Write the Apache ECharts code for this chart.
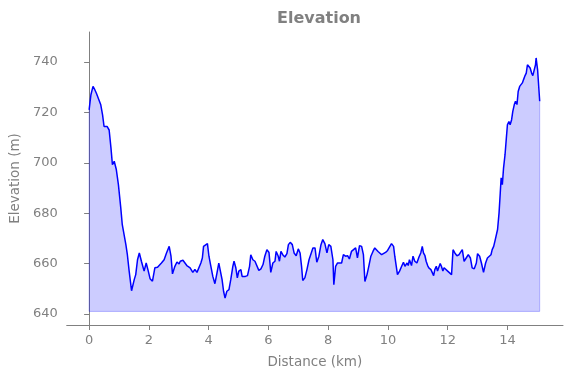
<!DOCTYPE html>
<html>
<head>
<meta charset="utf-8">
<script src="https://cdn.jsdelivr.net/npm/echarts@6/dist/echarts.min.js"></script>
<style>
  html, body { margin: 0; padding: 0; background: #fff; }
  #chart { width: 571px; height: 378px; }
</style>
</head>
<body>
<div id="chart"></div>
<script>
// distance along the route (km)
const distanceKm = [
  0.00, 0.06, 0.13, 0.19, 0.24, 0.30, 0.39, 0.45, 0.50, 0.60, 0.67, 0.73, 0.78, 0.84, 0.91, 0.98,
  1.06, 1.11, 1.15, 1.23, 1.28, 1.34, 1.42, 1.51, 1.56, 1.62, 1.68, 1.75, 1.84, 1.91, 1.98, 2.04,
  2.12, 2.20, 2.29, 2.35, 2.42, 2.51, 2.59, 2.68, 2.74, 2.79, 2.87, 2.94, 3.01,
  3.05, 3.14, 3.20, 3.27, 3.32, 3.38, 3.47, 3.54, 3.61, 3.67, 3.74, 3.79, 3.83, 3.89, 3.96, 4.01,
  4.07, 4.14, 4.21, 4.28, 4.34, 4.40, 4.45, 4.50, 4.55, 4.61, 4.68, 4.74, 4.81, 4.85, 4.91, 4.96,
  5.01, 5.08, 5.12, 5.17, 5.23, 5.30, 5.37, 5.41, 5.48, 5.55, 5.61, 5.68, 5.75, 5.82, 5.88, 5.95,
  6.02, 6.08, 6.15, 6.22,
  6.26, 6.33, 6.37, 6.42, 6.48, 6.55, 6.62, 6.67, 6.73, 6.80, 6.86, 6.93, 7.00, 7.06, 7.11, 7.15,
  7.22, 7.29, 7.36, 7.42, 7.49, 7.56, 7.62, 7.69, 7.76, 7.82, 7.89, 7.96, 8.02, 8.09, 8.16, 8.19,
  8.25, 8.31, 8.38, 8.45, 8.51, 8.58, 8.65, 8.71, 8.78, 8.85, 8.92, 8.98, 9.05, 9.12, 9.18, 9.23,
  9.30, 9.36, 9.43, 9.50, 9.56,
  9.61, 9.67, 9.72, 9.79, 9.85, 9.92, 9.99, 10.05, 10.12, 10.19, 10.23, 10.28, 10.32, 10.39, 10.46, 10.52,
  10.57, 10.64, 10.68, 10.72, 10.79, 10.84, 10.90, 10.97, 11.04, 11.10, 11.15, 11.19, 11.24, 11.28, 11.33, 11.37,
  11.44, 11.48, 11.53, 11.57, 11.62, 11.66, 11.71, 11.75, 11.79, 11.84, 11.88, 11.93, 12.00, 12.06, 12.13, 12.18,
  12.24, 12.31, 12.38, 12.44, 12.49, 12.55,
  12.62, 12.69, 12.76, 12.82, 12.89, 12.96, 13.00, 13.07, 13.13, 13.20, 13.27, 13.33, 13.38, 13.45, 13.49, 13.54,
  13.58, 13.63, 13.67, 13.72, 13.76, 13.79, 13.83, 13.87, 13.92, 13.96, 14.00, 14.05, 14.09, 14.14, 14.18, 14.23,
  14.27, 14.32, 14.36, 14.41, 14.45, 14.50, 14.54, 14.59, 14.63, 14.67, 14.72, 14.76, 14.81, 14.85, 14.90, 14.94,
  14.96, 15.01, 15.08
]
// elevation (m)
const elevationM = [
  721.0, 727.0, 730.3, 729.0, 727.7, 727.0, 723.0, 719.0, 714.4, 714.4, 713.0, 706.0, 699.2, 700.6, 697.3, 691.3,
  682.0, 675.4, 676.0, 667.5, 663.5, 657.0, 649.2, 653.6, 655.6, 661.5, 664.2, 660.9, 657.0, 660.2, 657.0, 654.0,
  653.0, 658.3, 658.5, 658.0, 660.2, 661.5, 664.2, 666.8, 662.9, 655.9, 658.9, 660.6, 659.8,
  660.9, 661.3, 660.6, 659.2, 658.9, 658.3, 656.5, 657.6, 656.5, 657.0, 660.2, 662.2, 666.8, 667.5, 667.9, 662.9,
  659.2, 654.9, 652.0, 656.3, 660.2, 659.6, 653.6, 649.0, 646.3, 649.0, 649.6, 653.6, 658.9, 660.9, 658.3, 654.3,
  657.0, 657.6, 654.9, 654.5, 654.9, 655.2, 658.9, 663.5, 661.5, 660.9, 661.5, 657.3, 657.9, 659.6, 662.9, 665.5,
  664.4, 656.5, 660.2, 660.9,
  664.8, 662.9, 660.9, 664.8, 663.5, 662.6, 663.9, 667.5, 668.4, 667.5, 664.2, 663.1, 665.8, 664.2, 658.9, 653.3,
  654.3, 657.6, 661.5, 662.2, 666.2, 666.2, 660.5, 662.9, 667.5, 669.5, 667.9, 664.2, 667.5, 666.8, 661.5, 651.6,
  658.9, 660.2, 660.2, 660.2, 663.5, 662.9, 663.1, 661.8, 664.8, 665.5, 666.2, 662.2, 667.1, 666.8, 663.5, 652.9,
  655.6, 658.9, 662.9, 664.8, 666.2,
  666.2, 664.8, 665.5, 663.5, 663.5, 664.4, 665.2, 664.8, 667.9, 666.8, 662.9, 658.9, 655.6, 657.0, 658.9, 660.5,
  658.9, 660.2, 659.2, 661.5, 659.2, 662.9, 660.9, 660.2, 662.6, 664.2, 666.8, 664.2, 663.1, 660.9, 659.2, 658.3,
  657.6, 657.9, 655.2, 657.6, 658.9, 657.0, 657.6, 660.0, 658.9, 657.0, 658.3, 658.7, 657.0, 656.3, 655.6, 665.5,
  664.2, 663.1, 663.5, 663.9, 665.5, 660.9,
  662.2, 663.5, 662.2, 658.3, 657.9, 660.2, 663.9, 662.9, 660.2, 656.5, 660.2, 662.2, 661.5, 663.5, 665.5, 666.8,
  668.8, 668.2, 673.5, 680.1, 688.0, 694.0, 691.3, 697.9, 703.2, 709.2, 715.1, 716.4, 715.1, 717.1, 720.4, 723.1,
  724.4, 723.1, 728.3, 730.3, 729.7, 731.7, 733.0, 734.6, 735.6, 738.9, 738.5, 737.6, 735.6, 734.6, 734.3, 738.9,
  741.6, 736.9, 724.4
]
// bottom of the filled area
const fillBase = 641
const xTicks = [0, 2, 4, 6, 8, 10, 12, 14]
const yTicks = [640, 660, 680, 700, 720, 740]

const grey = '#808080'
const chart = echarts.init(document.getElementById('chart'))

const profile = distanceKm.map((d, i) => [d, elevationM[i]])
const last = distanceKm.length - 1
// outline of the fill (left edge, bottom, right edge)
const fillEdge = [
  [distanceKm[0], elevationM[0]],
  [distanceKm[0], fillBase],
  [distanceKm[last], fillBase],
  [distanceKm[last], elevationM[last]]
]

const option = {
  animation: false,
  textStyle: { fontFamily: 'DejaVu Sans' },
  title: {
    text: 'Elevation',
    left: 272,
    top: 6,
    textStyle: { color: grey, fontSize: 16, fontWeight: 'bold', fontFamily: 'DejaVu Sans' }
  },
  grid: { left: 66, right: 8, top: 32, bottom: 53, containLabel: false },
  xAxis: {
    type: 'value',
    min: -0.75,
    max: 15.86,
    name: 'Distance (km)',
    nameLocation: 'middle',
    nameGap: 30,
    nameTextStyle: { color: grey, fontSize: 13.5 },
    splitLine: { show: false },
    axisLine: { lineStyle: { color: grey } },
    axisTick: { show: true, length: 5, lineStyle: { color: grey }, customValues: xTicks },
    axisLabel: { color: grey, fontSize: 13, margin: 9, customValues: xTicks }
  },
  yAxis: {
    type: 'value',
    min: 635.6,
    max: 751.9,
    name: 'Elevation (m)',
    nameLocation: 'middle',
    nameGap: 38,
    nameTextStyle: { color: grey, fontSize: 13.5 },
    splitLine: { show: false },
    axisLine: { show: true, lineStyle: { color: grey } },
    axisTick: { show: true, length: 5, lineStyle: { color: grey }, customValues: yTicks },
    axisLabel: { color: grey, fontSize: 13, margin: 9, customValues: yTicks }
  },
  series: [
    {
      type: 'line',
      data: fillEdge,
      symbol: 'none',
      silent: true,
      lineStyle: { color: 'rgba(0,0,255,0.25)', width: 1 },
      z: 1
    },
    {
      type: 'line',
      data: profile,
      symbol: 'none',
      lineStyle: { color: '#0000ff', width: 1.5 },
      areaStyle: { color: 'rgba(0,0,255,0.2)', opacity: 1, origin: fillBase },
      z: 2
    }
  ]
}
chart.setOption(option)
</script>
</body>
</html>
